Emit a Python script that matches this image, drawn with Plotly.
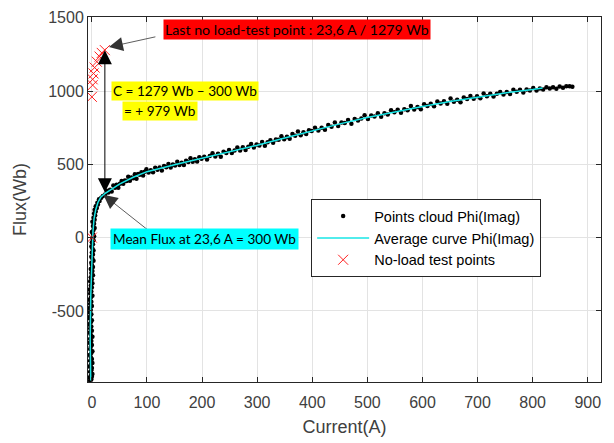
import plotly.graph_objects as go

# ---------------- data ----------------
# Points cloud Phi(Imag): steep part near 0 A
cloud_low_I = [-3, -1, -4, 0, -2, 1, -3, -1, 0, -4, -2, 1, -3, 0, -2, -4, -1, 1, -3, -2, 0, -4, -1, -3, 1, -2, -4, 0, -3, -1,
               -5, -2, 0, -4, -3, -1, -5, -2, -4, 0, -3, -1, -4, -2, 1, -3, -1, -4, 0, -2, 1, -3, 0, -2, 2, -1, 1, -2, 2, 0,
               -1, 3, 1, -1, 2, 0, 3, 1, -1, 2, 0, 3, 1, 4, 2, 0, 3, 5, 2, 4, 1, 5, 3, 6, 4, 7, 5, 9, 7, 11, 10, 14, 13, 17, 20, 24]
cloud_low_F = [-975, -968, -955, -950, -940, -930, -915, -905, -890, -880, -868, -855, -840, -828, -815, -800, -788, -775, -760, -745,
               -732, -718, -705, -690, -676, -662, -648, -635, -620, -606, -592, -578, -564, -550, -536, -522, -508, -494, -480, -466,
               -452, -438, -424, -410, -396, -382, -368, -354, -340, -326, -312, -298, -284, -270, -256, -242, -228, -214, -200, -186,
               -172, -158, -144, -130, -116, -102, -88, -74, -60, -46, -32, -18, -4, 10, 24, 38, 52, 66, 80, 94,
               108, 122, 136, 150, 164, 178, 190, 202, 214, 226, 238, 250, 262, 272, 284, 294]

# Points cloud Phi(Imag): knee and saturation part
cloud_high_I = [27, 30, 33, 36, 39, 42, 45, 48, 51, 54, 57, 60, 63, 66, 69, 72, 75, 78, 81, 84, 87, 90, 93, 96, 99,
                103, 107, 111, 115, 119, 123, 127, 131, 135, 139, 143, 147, 151, 155, 159, 163, 167, 171, 175, 179, 183, 187, 191, 195, 199,
                204, 209, 214, 219, 224, 229, 234, 239, 244, 249, 254, 259, 264, 269, 274, 279, 284, 289, 294, 299,
                304, 309, 314, 319, 324, 329, 334, 339, 344, 349, 354, 359, 364, 369, 374, 379, 384, 389, 394, 399,
                405, 411, 417, 423, 429, 435, 441, 447, 453, 459, 465, 471, 477, 483, 489, 495, 501, 507, 513, 519,
                525, 531, 537, 543, 549, 555, 561, 567, 573, 579, 585, 591, 597, 603, 609, 615, 621, 627, 633, 639,
                645, 651, 657, 663, 669, 675, 681, 687, 693, 699, 705, 711, 717, 723, 729, 735, 741, 747, 753, 759,
                765, 771, 777, 783, 789, 795, 801, 807, 813, 819, 825, 831, 837, 843, 849, 855, 861, 867, 872]
cloud_high_F = [320, 307, 326, 315, 356, 341, 361, 341, 368, 386, 367, 390, 387, 416, 388, 410, 405, 433, 401, 434, 429, 446, 423, 449, 467,
                444, 459, 446, 477, 463, 479, 458, 489, 480, 502, 478, 498, 492, 518, 495, 510, 495, 524, 515, 542, 518, 534, 519, 548, 538,
                552, 533, 556, 575, 553, 572, 552, 586, 577, 598, 578, 594, 614, 595, 616, 597, 620, 639, 615, 636,
                629, 652, 627, 651, 664, 647, 670, 667, 692, 671, 688, 674, 706, 695, 724, 699, 719, 706, 732, 728,
                750, 731, 749, 735, 768, 757, 785, 762, 785, 782, 803, 776, 809, 799, 812, 835, 809, 833, 827, 848,
                824, 848, 840, 869, 856, 872, 852, 876, 869, 898, 874, 891, 876, 909, 897, 913, 896, 928, 915, 930,
                914, 949, 926, 941, 924, 955, 945, 966, 947, 965, 951, 983, 964, 981, 962, 982, 994, 977, 993, 980,
                1009, 995, 1009, 990, 1011, 1004, 1021, 1003, 1018, 1010, 1026, 1017, 1026, 1016, 1031, 1023, 1033, 1033, 1029]

# Average curve Phi(Imag)
avg_I = [-2, -3, -2, 0, 1, 2, 4, 7, 11, 16, 23.6, 35, 50, 75, 100, 150, 200, 250, 300, 350, 400, 450, 500, 550, 600, 650, 700, 750, 800, 818]
avg_F = [-975, -700, -400, -150, -50, 40, 130, 190, 240, 275, 300, 330, 365, 412, 450, 497, 540, 585, 630, 680, 730, 776, 820, 858, 895, 928, 960, 987, 1010, 1020]

# No-load test points
noload_I = [0, 0, 1.5, 1.5, 3, 5, 9, 14, 18, 23.6]
noload_F = [0, 960, 1040, 1080, 1120, 1160, 1200, 1235, 1260, 1279]

# annotation values
last_I, last_F = 23.6, 1279
mean_F = 300

x_ticks = [0, 100, 200, 300, 400, 500, 600, 700, 800, 900]
y_ticks = [-500, 0, 500, 1000, 1500]
y_tick_text = ["-500", "0", "500", "1000", "1500"]

# ---------------- figure ----------------
fig = go.Figure()
fig.add_trace(go.Scatter(x=cloud_low_I + cloud_high_I, y=cloud_low_F + cloud_high_F, mode="markers",
                         marker=dict(color="black", size=4.5), name="Points cloud Phi(Imag)"))
fig.add_trace(go.Scatter(x=avg_I, y=avg_F, mode="lines", line=dict(color="#19e6e6", width=1.5),
                         name="Average curve Phi(Imag)"))
fig.add_trace(go.Scatter(x=noload_I, y=noload_F, mode="markers",
                         marker=dict(symbol="x-thin", size=10, line=dict(color="#ff2020", width=1)),
                         name="No-load test points"))

red_font = dict(family="Lato, Open Sans, sans-serif", size=14.2, color="black")
ann_font = dict(family="Lato, Open Sans, sans-serif", size=13.6, color="black")

# double arrow C
fig.add_annotation(x=last_I, y=last_F, ax=last_I, ay=mean_F, xref="x", yref="y", axref="x", ayref="y",
                   text="", showarrow=True, arrowhead=2, arrowside="end+start", arrowsize=2.8,
                   arrowwidth=1, arrowcolor="black", standoff=0, startstandoff=0)
# arrow to last no-load point
fig.add_annotation(x=31, y=1300, ax=118, ay=1372, xref="x", yref="y", axref="x", ayref="y",
                   text="", showarrow=True, arrowhead=2, arrowsize=3.5, arrowwidth=0.8, arrowcolor="#333333")
# arrow to mean flux point
fig.add_annotation(x=21, y=292, ax=104, ay=45, xref="x", yref="y", axref="x", ayref="y",
                   text="", showarrow=True, arrowhead=2, arrowsize=3.5, arrowwidth=0.8, arrowcolor="#333333")

fig.add_annotation(x=129, y=1420, xref="x", yref="y", xanchor="left", yanchor="middle",
                   text="Last no load-test point : 23,6 A / 1279 Wb", showarrow=False,
                   bgcolor="#ff0000", font=red_font, borderpad=1)
fig.add_annotation(x=34, y=1003, xref="x", yref="y", xanchor="left", yanchor="middle",
                   text="C = 1279 Wb \u2013 300 Wb", showarrow=False,
                   bgcolor="#ffff00", font=ann_font, borderpad=1)
fig.add_annotation(x=54, y=862, xref="x", yref="y", xanchor="left", yanchor="middle",
                   text="= + 979 Wb", showarrow=False,
                   bgcolor="#ffff00", font=ann_font, borderpad=1)
fig.add_annotation(x=33, y=-10, xref="x", yref="y", xanchor="left", yanchor="middle",
                   text="Mean Flux at 23,6 A = 300 Wb", showarrow=False,
                   bgcolor="#00ffff", font=ann_font, borderpad=2)

tick_font = dict(family="Liberation Sans, Arial", size=16, color="#404040")
axis_common = dict(showline=True, linecolor="#262626", linewidth=1, mirror="ticks", ticks="inside",
                   ticklen=5, tickcolor="#262626", showgrid=True, gridcolor="#e3e3e3", gridwidth=1,
                   zeroline=False, tickfont=tick_font)

fig.update_xaxes(range=[-7, 924], tickvals=x_ticks, ticklabelstandoff=6,
                 title=dict(text="Current(A)", standoff=10,
                            font=dict(family="Liberation Sans, Arial", size=18, color="#404040")), **axis_common)
fig.update_yaxes(range=[-985, 1505], tickvals=y_ticks, ticktext=y_tick_text,
                 title=dict(text="Flux(Wb)", standoff=16,
                            font=dict(family="Liberation Sans, Arial", size=18, color="#404040")), **axis_common)

fig.update_layout(
    width=614, height=443,
    margin=dict(l=88, r=13, t=9, b=59),
    paper_bgcolor="white", plot_bgcolor="white",
    showlegend=True,
    legend=dict(x=0.435, y=0.501, xanchor="left", yanchor="top", bgcolor="white",
                bordercolor="#262626", borderwidth=1, itemwidth=52,
                font=dict(family="Liberation Sans, Arial", size=14.5, color="black")),
)

fig.write_html("out.html")
